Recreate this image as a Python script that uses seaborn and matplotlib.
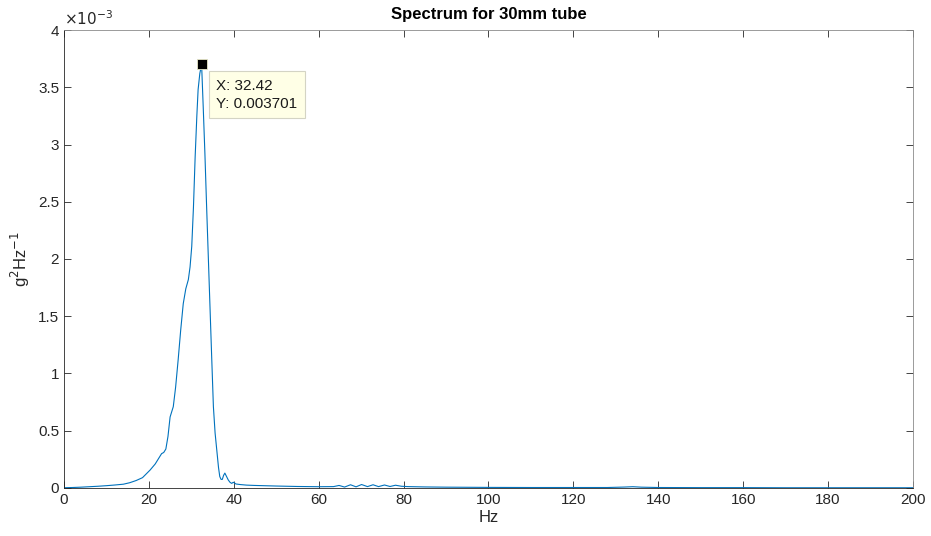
import numpy as np
import pandas as pd
import matplotlib
matplotlib.use("Agg")
import matplotlib.pyplot as plt
import seaborn as sns

# Frequency (Hz) and PSD (in units of 1e-3 g^2/Hz)
freq = [0, 2, 4, 6, 8, 10, 12, 14, 15.5, 17, 18.5, 20.3, 21.5, 22.5, 23.0, 23.5, 24.0,
        24.5, 25.0, 25.75, 26.3, 26.9, 27.5, 28.1, 28.7, 29.3, 29.7, 30.1, 30.5, 30.9,
        31.3, 31.6, 32.0, 32.42, 32.8, 33.2, 33.6, 34.0, 34.4, 34.8, 35.2, 35.6, 36.0,
        36.4, 36.7, 37.0, 37.3, 37.6, 37.9, 38.3, 38.7, 39.1, 39.5, 39.9, 40.5, 41.5,
        43, 45, 47, 50, 55, 60, 63.5, 64.8, 66.1, 67.5, 68.8, 70.1, 71.5, 72.8, 74.1,
        75.5, 76.8, 78.1, 79.5, 81, 85, 90, 95, 100, 110, 120, 128, 132, 134, 136, 140,
        150, 160, 170, 180, 190, 200]
psd_e3 = [0.002, 0.004, 0.007, 0.011, 0.015, 0.02, 0.026, 0.033, 0.046, 0.065, 0.09,
          0.157, 0.21, 0.27, 0.30, 0.31, 0.34, 0.45, 0.62, 0.71, 0.88, 1.12, 1.38, 1.61,
          1.74, 1.82, 1.93, 2.11, 2.45, 2.89, 3.25, 3.48, 3.62, 3.701, 3.33, 2.92, 2.46,
          2.02, 1.58, 1.14, 0.71, 0.48, 0.33, 0.18, 0.10, 0.075, 0.075, 0.11, 0.13, 0.10,
          0.07, 0.05, 0.04, 0.05, 0.035, 0.03, 0.025, 0.022, 0.02, 0.017, 0.013, 0.011,
          0.012, 0.022, 0.008, 0.028, 0.01, 0.03, 0.012, 0.028, 0.012, 0.026, 0.013,
          0.024, 0.015, 0.012, 0.009, 0.007, 0.006, 0.005, 0.004, 0.004, 0.004, 0.008,
          0.011, 0.007, 0.004, 0.003, 0.003, 0.002, 0.002, 0.002, 0.002]

peak_x = 32.42
peak_y = 0.003701

df = pd.DataFrame({"Hz": freq, "psd": np.array(psd_e3) * 1e-3})

sns.set_style("ticks")
plt.rcParams["font.family"] = ["Liberation Sans", "DejaVu Sans"]

fig = plt.figure(figsize=(9.31, 5.36), dpi=100)
ax = fig.add_axes([0.0687, 0.0896, 0.912, 0.8544])

sns.lineplot(data=df, x="Hz", y="psd", ax=ax, color="#0072BD", linewidth=0.8)

ax.set_xlim(0, 200)
ax.set_ylim(0, 4e-3)
ax.set_xticks(np.arange(0, 201, 20))
yt = np.arange(0, 4.01, 0.5)
ax.set_yticks(yt * 1e-3)
ax.set_yticklabels([f"{v:g}" for v in yt])

for name, s in ax.spines.items():
    s.set_visible(True)
    s.set_linewidth(0.6)
    s.set_color("#262626" if name in ("left", "bottom") else "#8a8a8a")
ax.tick_params(direction="in", top=True, right=True, length=5, width=0.6,
               colors="#262626", labelsize=11, labelcolor="#262626")

ax.set_xlabel("Hz", fontsize=12, color="#262626", labelpad=2)
ax.set_ylabel("g$^2$Hz$^{-1}$", fontsize=12, color="#262626", labelpad=4)
ax.set_title("Spectrum for 30mm tube", fontsize=12, fontweight="bold", color="black", pad=8)
ax.text(0.0, 1.005, r"$\times10^{-3}$", transform=ax.transAxes, fontsize=11,
        color="#262626", ha="left", va="bottom")

# data tip
ax.plot([peak_x], [peak_y], marker="s", color="black", markersize=7.5,
        markeredgecolor="#E8E8C8", markeredgewidth=0.6, zorder=5)
ax.annotate(f"X: {peak_x:.2f}\nY: {peak_y:.6f}", xy=(peak_x, peak_y),
            xytext=(10.5, -10.5), textcoords="offset points", ha="left", va="top",
            fontsize=11, color="#1a1a1a", linespacing=1.35,
            bbox=dict(boxstyle="square,pad=0.5", fc="#FFFFE6", ec="#D4D4C4", lw=0.8),
            zorder=6)

fig.savefig("out.png", dpi=100)
